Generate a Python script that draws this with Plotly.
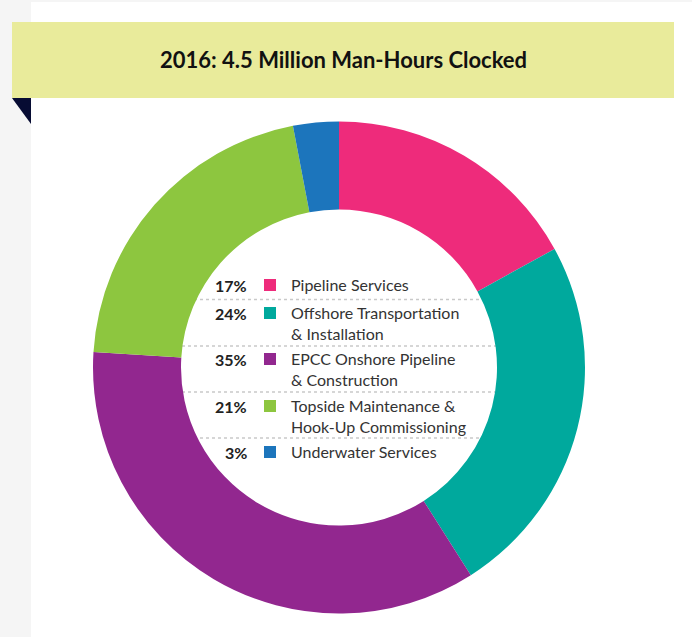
import plotly.graph_objects as go

# ---- data ----
labels = [
    "Pipeline Services",
    "Offshore Transportation<br>& Installation",
    "EPCC Onshore Pipeline<br>& Construction",
    "Topside Maintenance &<br>Hook-Up Commissioning",
    "Underwater Services",
]
values = [17, 24, 35, 21, 3]
colors = ["#ee2b7b", "#00a99d", "#92278f", "#8dc63f", "#1c75bc"]
title_text = "2016: 4.5 Million Man-Hours Clocked"

W, H = 692, 637
FONT = "Lato"


def px_x(x):
    return x / W


def px_y(y):
    return (H - y) / H


# donut geometry (pixels)
cx, cy, R = 339, 367.5, 246
hole_r = 158

fig = go.Figure(
    go.Pie(
        labels=labels,
        values=values,
        marker=dict(colors=colors, line=dict(width=0)),
        hole=hole_r / R,
        sort=False,
        direction="clockwise",
        rotation=0,
        textinfo="none",
        hoverinfo="label+percent",
        showlegend=False,
        domain=dict(x=[px_x(cx - R), px_x(cx + R)], y=[px_y(cy + R), px_y(cy - R)]),
    )
)

shapes = []
# white panel
shapes.append(dict(type="rect", xref="paper", yref="paper", x0=px_x(31), x1=px_x(W),
                   y0=px_y(H), y1=px_y(2), fillcolor="white", line=dict(width=0), layer="below"))
# banner
shapes.append(dict(type="rect", xref="paper", yref="paper", x0=px_x(12), x1=px_x(674),
                   y0=px_y(98), y1=px_y(22), fillcolor="#e9eb9b", line=dict(width=0), layer="below"))
# navy fold triangle
shapes.append(dict(type="path", xref="paper", yref="paper",
                   path=f"M {px_x(12)},{px_y(98)} L {px_x(31)},{px_y(98)} L {px_x(31)},{px_y(124)} Z",
                   fillcolor="#070c33", line=dict(width=0), layer="below"))

# legend rows inside the hole
row_first_line = [285, 313, 359, 406, 452]
separators = [299.5, 346, 392, 438]
for sy in separators:
    shapes.append(dict(type="line", xref="paper", yref="paper", x0=px_x(170), x1=px_x(510),
                       y0=px_y(sy), y1=px_y(sy), line=dict(color="#c9c9c9", width=1.5, dash="3px,3px"),
                       layer="below"))

annotations = [
    dict(text=f"<b>{title_text}</b>", x=px_x(343), y=px_y(60), xref="paper", yref="paper",
         showarrow=False, xanchor="center", yanchor="middle",
         font=dict(family=FONT, size=22, color="#111111"))
]

for lab, val, col, ry in zip(labels, values, colors, row_first_line):
    shapes.append(dict(type="rect", xref="paper", yref="paper", x0=px_x(264), x1=px_x(276),
                       y0=px_y(ry + 6), y1=px_y(ry - 6), fillcolor=col, line=dict(width=0)))
    annotations.append(dict(text=f"<b>{val}%</b>", x=px_x(249), y=px_y(ry), xref="paper", yref="paper",
                            showarrow=False, xanchor="right", yanchor="middle",
                            font=dict(family=FONT, size=16, color="#222222")))
    annotations.append(dict(text=lab, x=px_x(288.5), y=px_y(ry - 12), xref="paper", yref="paper",
                            showarrow=False, xanchor="left", yanchor="top", align="left",
                            font=dict(family=FONT, size=16, color="#333333")))

fig.update_layout(
    width=W, height=H,
    margin=dict(l=0, r=0, t=0, b=0),
    paper_bgcolor="#f5f5f5",
    plot_bgcolor="#f5f5f5",
    shapes=shapes,
    annotations=annotations,
)

fig.write_html(
    "out.html",
    config={"displayModeBar": False},
    post_script="document.body.style.margin='0';document.body.style.background='#f5f5f5';",
)
